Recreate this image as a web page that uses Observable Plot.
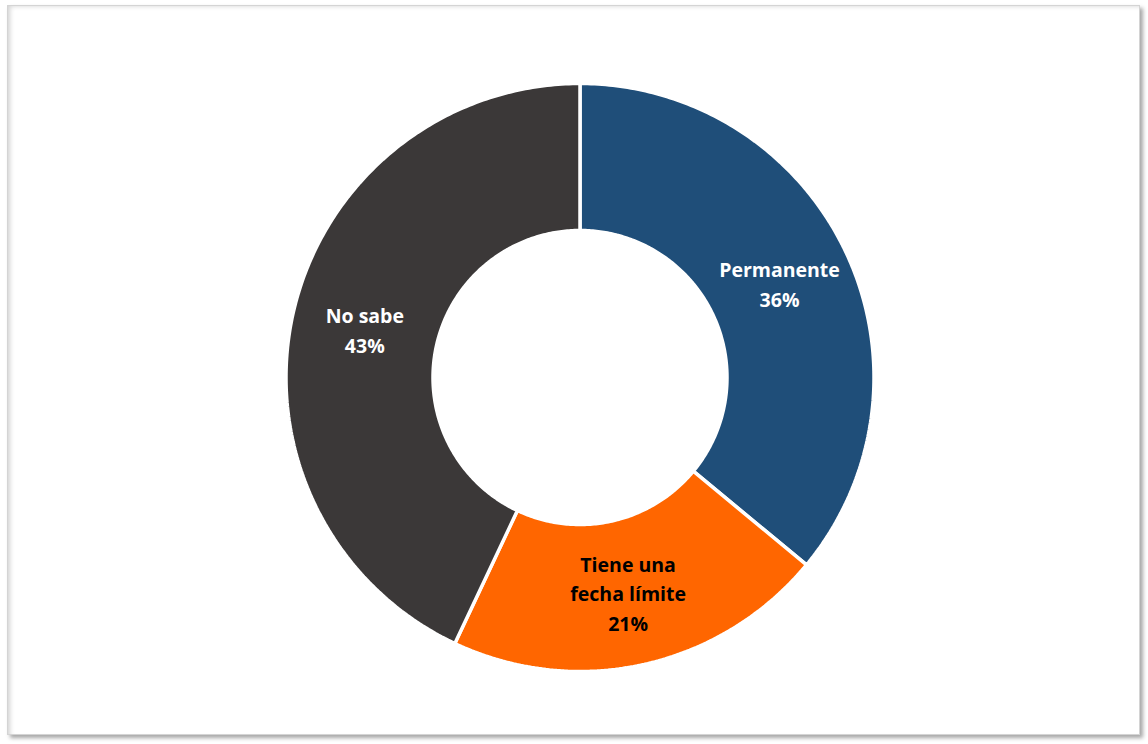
<!DOCTYPE html>
<html>
<head>
<meta charset="utf-8">
<script src="https://cdn.jsdelivr.net/npm/d3@7"></script>
<script src="https://cdn.jsdelivr.net/npm/@observablehq/plot@0.6"></script>
<style>
  html, body { margin: 0; padding: 0; background: #ffffff; }
  #wrap { position: relative; width: 1148px; height: 744px; overflow: hidden; background: #fff; }
  #frame {
    position: absolute; left: 7px; top: 5px; width: 1133px; height: 730px;
    border: 1px solid #d4d4d4; box-sizing: border-box;
    box-shadow: 3px 3px 4px rgba(0,0,0,0.35), inset 4px 2px 5px -2px rgba(0,0,0,0.18);
    background: #fff;
  }
  #chart { position: absolute; left: 0; top: 0; }
</style>
</head>
<body>
<div id="wrap"><div id="frame"></div><div id="chart"></div></div>
<script>
// Data
const categories = ["Permanente", "Tiene una fecha límite", "No sabe"];
const labelLines = ["Permanente", "Tiene una\nfecha límite", "No sabe"];
const values = [36, 21, 43];
const colors = ["#1F4E79", "#FF6600", "#3B3838"];
const labelColors = ["#ffffff", "#000000", "#ffffff"];

// Layout
const W = 1148, H = 744;
const cx = 579.5, cy = 377, R = 294;
const inner = 147 / 294;

const pie = d3.pie().sort(null).value(d => d)(values);

// Build polygon vertices (in radius units) for each slice
const ring = [];
pie.forEach((p, i) => {
  const n = Math.max(8, Math.ceil((p.endAngle - p.startAngle) * 80));
  const pts = [];
  for (let k = 0; k <= n; k++) {
    const a = p.startAngle + (p.endAngle - p.startAngle) * k / n;
    pts.push([Math.sin(a), Math.cos(a)]);
  }
  for (let k = n; k >= 0; k--) {
    const a = p.startAngle + (p.endAngle - p.startAngle) * k / n;
    pts.push([inner * Math.sin(a), inner * Math.cos(a)]);
  }
  pts.push(pts[0]);
  pts.forEach(([x, y], j) => ring.push({cat: categories[i], x, y, j}));
});

const labels = pie.map((p, i) => {
  const a = (p.startAngle + p.endAngle) / 2;
  const r = (1 + inner) / 2;
  return {
    cat: categories[i],
    text: labelLines[i] + "\n" + Math.round(values[i]) + "%",
    x: r * Math.sin(a), y: r * Math.cos(a), color: labelColors[i]
  };
});

const chart = Plot.plot({
  width: W, height: H,
  margin: 0,
  x: {domain: [-cx / R, (W - cx) / R], axis: null},
  y: {domain: [(cy - H) / R, cy / R], axis: null},
  color: {domain: categories, range: colors},
  style: {background: "transparent"},
  marks: [
    Plot.line(ring, {x: "x", y: "y", z: "cat", fill: "cat", stroke: "#ffffff", strokeWidth: 3.5, strokeLinejoin: "miter", curve: "linear"}),
    Plot.text(labels, {x: "x", y: "y", dy: -1, text: "text", fill: d => d.color, fontSize: 19.5, fontWeight: "bold", fontFamily: "'Open Sans', sans-serif", lineHeight: 1.52, textAnchor: "middle"})
  ]
});
document.getElementById("chart").appendChild(chart);
</script>
</body>
</html>
